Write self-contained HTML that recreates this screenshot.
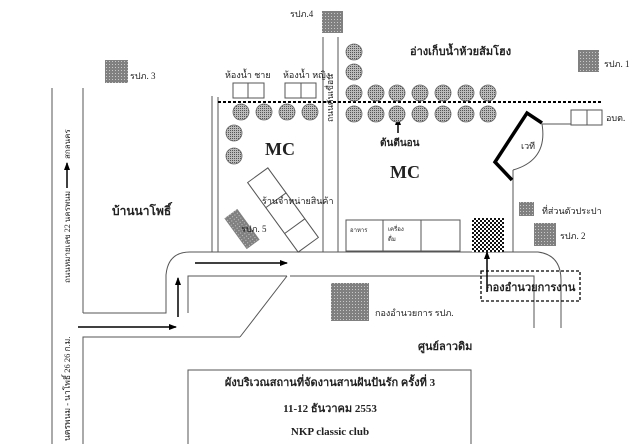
<!DOCTYPE html>
<html><head><meta charset="utf-8"><style>
html,body{margin:0;padding:0;background:#fff;}
svg{display:block;}
text{font-family:"Liberation Serif","Noto Serif CJK SC","Noto Sans CJK SC",serif;fill:#222;}
</style></head><body>
<svg width="640" height="444" viewBox="0 0 640 444" xmlns="http://www.w3.org/2000/svg">
<defs>
<pattern id="dots" width="3" height="3" patternUnits="userSpaceOnUse"><rect width="3" height="3" fill="#808080"/><rect x="1" y="1" width="1" height="1" fill="#c8c8c8"/></pattern>
<pattern id="chk" width="4" height="4" patternUnits="userSpaceOnUse"><rect width="4" height="4" fill="#fff"/><rect width="2" height="2" fill="#111"/><rect x="2" y="2" width="2" height="2" fill="#111"/></pattern>
<pattern id="hatch" width="2" height="2" patternUnits="userSpaceOnUse"><rect width="2" height="2" fill="#bbb"/><rect width="1" height="1" fill="#555"/></pattern>
<marker id="ar" markerWidth="8" markerHeight="8" refX="7" refY="4" orient="auto" markerUnits="userSpaceOnUse"><path d="M0,1 L8,4 L0,7 z" fill="#000"/></marker>
</defs>
<g stroke="#555" stroke-width="1" fill="none">
<line x1="52" y1="88" x2="52" y2="444"/>
<line x1="83" y1="88" x2="83" y2="313"/>
<polyline points="83,313 166,313 166,275"/>
<path d="M166,275 Q168,252 190,252 L538,252 Q561,255 561,280 L561,328"/>
<polyline points="188,313 188,276 287,276"/>
<line x1="287" y1="276" x2="240" y2="337"/>
<polyline points="83,444 83,337 240,337"/>
<polyline points="534,328 534,276 290,276"/>
<line x1="212" y1="96" x2="212" y2="252"/>
<line x1="218" y1="97" x2="218" y2="252"/>
<line x1="323" y1="37" x2="323" y2="252"/>
<line x1="338" y1="37" x2="338" y2="252"/>
<line x1="513" y1="170" x2="513" y2="252"/>
<line x1="542" y1="124" x2="571" y2="124"/>
<path d="M542,124 Q548,160 513,170"/>
<rect x="188" y="370" width="283" height="80"/>
<rect x="233" y="83" width="31" height="15"/><line x1="248" y1="83" x2="248" y2="98"/>
<rect x="285" y="83" width="31" height="15"/><line x1="301" y1="83" x2="301" y2="98"/>
<rect x="571" y="110" width="31" height="15"/><line x1="587" y1="110" x2="587" y2="125"/>
<rect x="346" y="220" width="114" height="31"/><line x1="383" y1="220" x2="383" y2="251"/><line x1="421" y1="220" x2="421" y2="251"/>
<g transform="translate(283,210) rotate(54)"><rect x="-43" y="-12.5" width="86" height="25" fill="#fff"/><line x1="-12" y1="-12.5" x2="-12" y2="12.5"/><line x1="20" y1="-12.5" x2="20" y2="12.5"/></g>
</g>
<line x1="218" y1="102" x2="602" y2="102" stroke="#000" stroke-width="2" stroke-dasharray="3,2"/>
<rect x="481" y="271" width="99" height="30" fill="none" stroke="#000" stroke-width="1.3" stroke-dasharray="3,2"/>
<polyline points="542,123 527,113 495,162 512,180" fill="none" stroke="#000" stroke-width="3.5"/>
<g stroke="#000" stroke-width="1.5" fill="none" marker-end="url(#ar)">
<line x1="78" y1="327" x2="176" y2="327"/>
<line x1="178" y1="317" x2="178" y2="278"/>
<line x1="195" y1="263" x2="287" y2="263"/>
<line x1="487" y1="292" x2="487" y2="252"/>
<line x1="398" y1="133" x2="398" y2="118"/>
<line x1="67" y1="188" x2="67" y2="163"/>
</g>
<g fill="url(#dots)">
<rect x="105" y="60" width="23" height="23"/>
<rect x="322" y="11" width="21" height="22"/>
<rect x="578" y="50" width="21" height="22"/>
<rect x="519" y="202" width="15" height="14"/>
<rect x="534" y="223" width="22" height="23"/>
<rect x="331" y="283" width="38" height="38"/>
<rect x="223" y="221" width="38" height="16" transform="rotate(54 242 229)"/>
</g>
<rect x="472" y="218" width="32" height="34" fill="url(#chk)"/>
<g fill="url(#hatch)" stroke="#666" stroke-width="0.8">
<circle cx="241" cy="112" r="8"/><circle cx="264" cy="112" r="8"/><circle cx="287" cy="112" r="8"/><circle cx="310" cy="112" r="8"/>
<circle cx="234" cy="133" r="8"/><circle cx="234" cy="156" r="8"/>
<circle cx="354" cy="52" r="8"/><circle cx="354" cy="72" r="8"/>
<circle cx="354" cy="93" r="8"/><circle cx="376" cy="93" r="8"/><circle cx="397" cy="93" r="8"/><circle cx="420" cy="93" r="8"/><circle cx="443" cy="93" r="8"/><circle cx="466" cy="93" r="8"/><circle cx="488" cy="93" r="8"/>
<circle cx="354" cy="114" r="8"/><circle cx="376" cy="114" r="8"/><circle cx="397" cy="114" r="8"/><circle cx="420" cy="114" r="8"/><circle cx="443" cy="114" r="8"/><circle cx="466" cy="114" r="8"/><circle cx="488" cy="114" r="8"/>
</g>
<g font-size="9">
<text x="130" y="79">รปภ. 3</text>
<text x="290" y="17">รปภ.4</text>
<text x="604" y="67">รปภ. 1</text>
<text x="606" y="121">อบต.</text>
<text x="225" y="78">ห้องน้ำ ชาย</text>
<text x="283" y="78">ห้องน้ำ หญิง</text>
<text x="521" y="149">เวที</text>
<text x="542" y="214">ที่ส่วนตัวประปา</text>
<text x="560" y="239">รปภ. 2</text>
<text x="375" y="316">กองอำนวยการ รปภ.</text>
<text x="262" y="204">ร้านจำหน่ายสินค้า</text>
<text x="241" y="232">รปภ. 5</text>
<text x="350" y="232" font-size="6">อาหาร</text>
<text x="388" y="231" font-size="6">เครื่อง</text><text x="388" y="241" font-size="6">ดื่ม</text>
<text transform="translate(70,283) rotate(-90)" font-size="8" textLength="92" lengthAdjust="spacingAndGlyphs">ถนนหมายเลข 22 นครพนม</text>
<text transform="translate(70,159) rotate(-90)" font-size="8">สกลนคร</text>
<text transform="translate(70,441) rotate(-90)" font-size="8.5">นครพนม - นาโพธิ์ 26 26 ก.ม.</text>
<text transform="translate(333,122) rotate(-90)" font-size="8.5">ถนนคันเขื่อน</text>
</g>
<g font-weight="bold">
<text x="265" y="155" font-size="18">MC</text>
<text x="390" y="178" font-size="18">MC</text>
<text x="410" y="55" font-size="11">อ่างเก็บน้ำห้วยส้มโฮง</text>
<text x="380" y="146" font-size="10">ต้นตีนอน</text>
<text x="112" y="215" font-size="12">บ้านนาโพธิ์</text>
<text x="486" y="291" font-size="11">กองอำนวยการงาน</text>
<text x="418" y="350" font-size="11">ศูนย์ลาวดิม</text>
<text x="330" y="386" font-size="11" text-anchor="middle">ผังบริเวณสถานที่จัดงานสานฝันปันรัก ครั้งที่ 3</text>
<text x="330" y="412" font-size="11" text-anchor="middle">11-12 ธันวาคม 2553</text>
<text x="330" y="435" font-size="11" text-anchor="middle">NKP classic club</text>
</g>
</svg>
</body></html>
